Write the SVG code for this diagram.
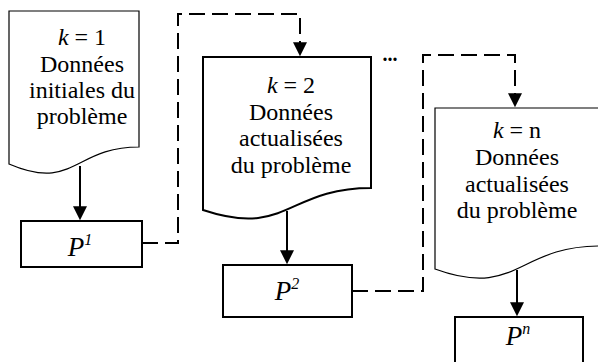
<svg xmlns="http://www.w3.org/2000/svg" width="598" height="362" viewBox="0 0 598 362">
<style>
.doc{fill:#fff;stroke:#000;stroke-width:1.2}
.docb{fill:#fff;stroke:#000;stroke-width:2}
.box{fill:#fff;stroke:#000;stroke-width:2}
text{font-family:'Liberation Serif','Times New Roman',Times,serif;fill:#000;text-anchor:middle}
.t{font-size:24px}
.p{font-size:27px;font-style:italic}
.i{font-style:italic}
.solid{fill:none;stroke:#000;stroke-width:2}
.dash{fill:none;stroke:#000;stroke-width:2;stroke-dasharray:16 7}
</style>
<defs>
<marker id="ah" viewBox="0 0 10 10" refX="0.5" refY="5" markerWidth="7" markerHeight="7" orient="auto" markerUnits="strokeWidth">
<path d="M0,0 L10,5 L0,10 Z" fill="#000"/>
</marker>
</defs>
<g id="connectors">
<path class="dash" d="M142,243 H178 V14 H300 V43" marker-end="url(#ah)"/>
<path class="dash" d="M352,291 H423 V55 H515 V94" marker-end="url(#ah)"/>
<path class="solid" d="M80,166 V207" marker-end="url(#ah)"/>
<path class="solid" d="M287,211 V251" marker-end="url(#ah)"/>
<path class="solid" d="M517,270 V303" marker-end="url(#ah)"/>
</g>
<g id="doc1">
<path class="doc" d="M9,11 H139 V147 C74,147 74,192 9,164 Z"/>
<text class="t" x="82" y="45"><tspan class="i">k</tspan> = 1</text>
<text class="t" x="82" y="71.5">Données</text>
<text class="t" x="82" y="97.5">initiales du</text>
<text class="t" x="82" y="123.5">problème</text>
</g>
<g id="p1">
<rect class="box" x="21" y="221" width="121" height="46"/>
<text class="p" x="80" y="256">P<tspan font-size="16" dy="-11">1</tspan></text>
</g>
<g id="doc2">
<path class="docb" d="M203,57 H371 V188 C287,188 287,238 203,210 Z"/>
<text class="t" x="291" y="93"><tspan class="i">k</tspan> = 2</text>
<text class="t" x="291" y="119.5">Données</text>
<text class="t" x="291" y="146">actualisées</text>
<text class="t" x="291" y="172.5">du problème</text>
</g>
<g id="p2">
<rect class="box" x="223" y="265" width="129" height="52"/>
<text class="p" x="287" y="300">P<tspan font-size="16" dy="-11">2</tspan></text>
</g>
<g id="ellipsis">
<text x="390" y="61" font-size="20" font-weight="bold">...</text>
</g>
<g id="docn">
<path class="doc" d="M435,108 H600 V246 C517,246 517,299 435,269 Z"/>
<text class="t" x="517" y="138"><tspan class="i">k</tspan> = n</text>
<text class="t" x="517" y="165">Données</text>
<text class="t" x="517" y="191.5">actualisées</text>
<text class="t" x="517" y="218">du problème</text>
</g>
<g id="pn">
<rect class="box" x="455" y="317" width="128" height="60"/>
<text class="p" x="518" y="345">P<tspan font-size="16" dy="-11">n</tspan></text>
</g>
</svg>
